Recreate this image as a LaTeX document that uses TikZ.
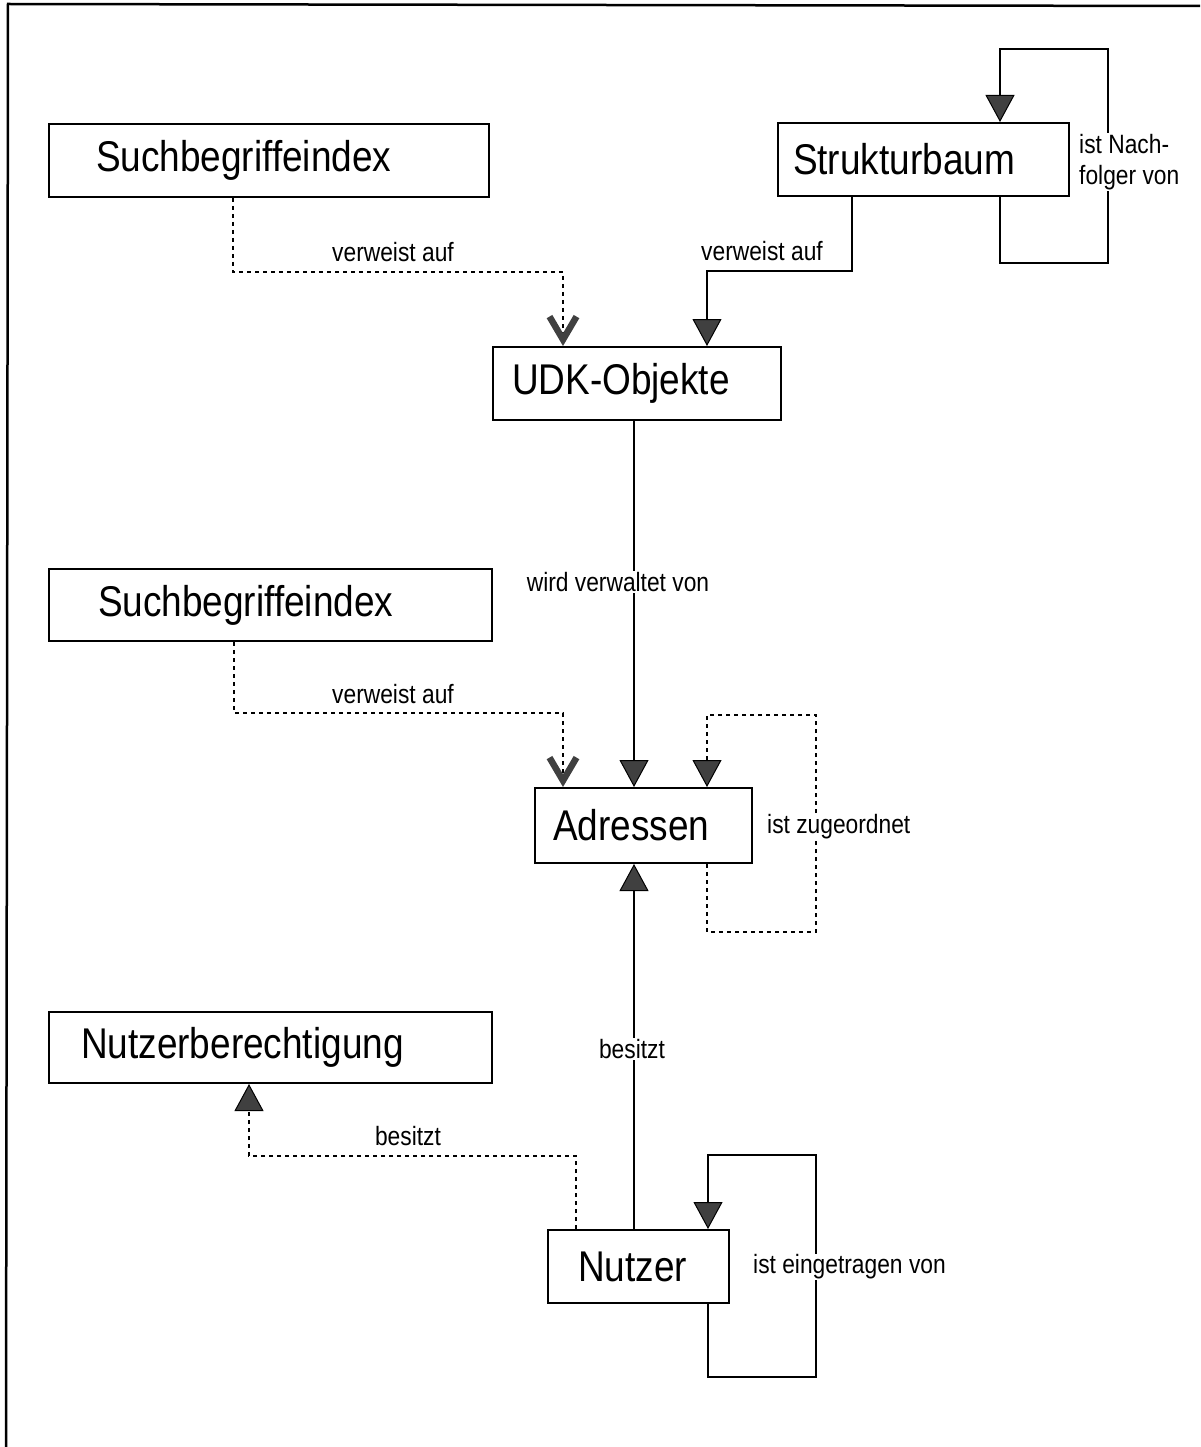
\documentclass[tikz,border=0pt]{standalone}
\usepackage{fontspec}
\setmainfont{Liberation Sans}
\newfontfamily\narrowsans[FakeStretch=0.86]{Liberation Sans}
\usetikzlibrary{arrows.meta}
\definecolor{tipfill}{gray}{0.25}
\tikzset{
  box/.style={draw, line width=2pt, anchor=north west, align=left,
    font=\narrowsans\fontsize{43}{48}\selectfont},
  rel/.style={font=\narrowsans\fontsize{26.5}{31}\selectfont, inner sep=1pt},
  relw/.style={rel, fill=white},
  solidline/.style={line width=2pt},
  dotline/.style={line width=1.6pt, dash pattern=on 4pt off 4pt},
  tri/.style={-{Triangle[length=27pt,width=29pt,fill=tipfill,line width=1pt]}},
  vee/.style={-{Straight Barb[length=23pt,width=27pt,line width=6.5pt,color=tipfill]}},
}
\begin{document}
\begin{tikzpicture}[x=1pt,y=-1pt]
\useasboundingbox (0,0) rectangle (1200,1447);

% page frame (top and left edges)
\draw[line width=2.5pt] (1200,6) -- (8,4) -- (6,1447);

% entities
\node[box, minimum width=440pt, minimum height=73pt, inner xsep=47pt, text width=346pt] (s1) at (48,123) {Suchbegriffeindex};
\node[box, minimum width=291pt, minimum height=73pt, inner xsep=15pt, text width=261pt] (sb) at (777,122) {Strukturbaum};
\node[box, minimum width=288pt, minimum height=73pt, inner xsep=19pt, text width=250pt] (udk) at (492,346) {UDK-Objekte};
\node[box, minimum width=443pt, minimum height=72pt, inner xsep=49pt, text width=345pt] (s2) at (48,568) {Suchbegriffeindex};
\node[box, minimum width=217pt, minimum height=75pt, inner xsep=18pt, text width=181pt] (adr) at (534,787) {Adressen};
\node[box, minimum width=443pt, minimum height=71pt, inner xsep=32pt, text width=379pt] (nb) at (48,1011) {Nutzerberechtigung};
\node[box, minimum width=181pt, minimum height=73pt, inner xsep=30pt, text width=121pt] (nu) at (547,1229) {Nutzer};

% Suchbegriffeindex -> UDK-Objekte
\draw[dotline, vee] (233,0 |- s1.south) |- (563,272) -- (563,0 |- udk.north);
\node[rel] (l1) at (393,252) {verweist auf};

% Strukturbaum -> UDK-Objekte
\draw[solidline, tri] (852,0 |- sb.south) |- (707,271) -- (707,0 |- udk.north);
\node[rel] (l2) at (762,251) {verweist auf};

% Strukturbaum self relation
\draw[solidline, tri] (1000,0 |- sb.south) -- (1000,263) -- (1108,263) -- (1108,49) -- (1000,49) -- (1000,0 |- sb.north);
\node[relw, anchor=west, align=left] (l3) at (1078,162) {ist Nach-\\folger von};

% UDK-Objekte -> Adressen
\draw[solidline, tri] (634,0 |- udk.south) -- (634,0 |- adr.north);
\node[relw] (l4) at (618,582) {wird verwaltet von};

% Suchbegriffeindex -> Adressen
\draw[dotline, vee] (234,0 |- s2.south) |- (563,713) -- (563,0 |- adr.north);
\node[rel] (l5) at (393,694) {verweist auf};

% Adressen self relation
\draw[dotline, tri] (707,0 |- adr.south) -- (707,932) -- (816,932) -- (816,715) -- (707,715) -- (707,0 |- adr.north);
\node[relw, anchor=west] (l6) at (766,827) {ist zugeordnet};

% Nutzer -> Adressen
\draw[solidline, tri] (634,0 |- nu.north) -- (634,0 |- adr.south);
\node[relw] (l7) at (632,1049) {besitzt};

% Nutzer -> Nutzerberechtigung
\draw[dotline, tri] (576,0 |- nu.north) |- (249,1156) -- (249,0 |- nb.south);
\node[rel] (l8) at (408,1136) {besitzt};

% Nutzer self relation
\draw[solidline, tri] (708,0 |- nu.south) -- (708,1377) -- (816,1377) -- (816,1155) -- (708,1155) -- (708,0 |- nu.north);
\node[relw, anchor=west] (l9) at (752,1267) {ist eingetragen von};
\end{tikzpicture}
\end{document}
